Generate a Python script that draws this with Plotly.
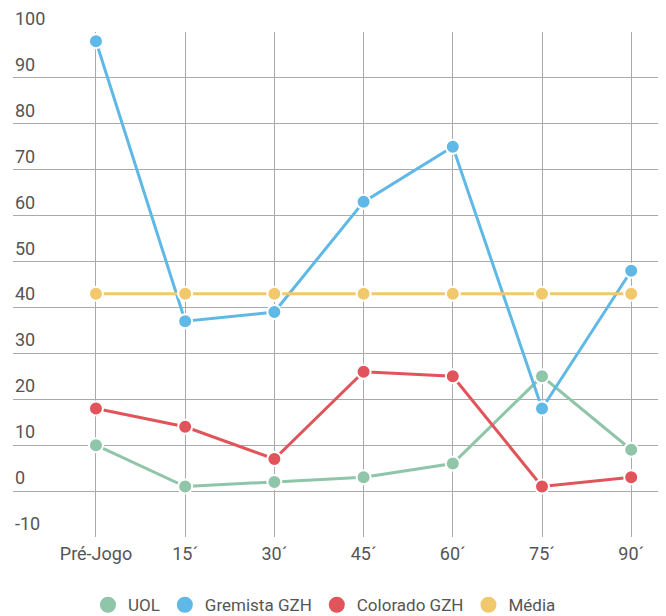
import plotly.graph_objects as go

categories = ["Pré-Jogo", "15´", "30´", "45´", "60´", "75´", "90´"]
uol = [10, 1, 2, 3, 6, 25, 9]
gremista = [98, 37, 39, 63, 75, 18, 48]
colorado = [18, 14, 7, 26, 25, 1, 3]
media = [43, 43, 43, 43, 43, 43, 43]
y_ticks = [-10, 0, 10, 20, 30, 40, 50, 60, 70, 80, 90, 100]

series = [
    ("UOL", uol, "#8fc5a9"),
    ("Gremista GZH", gremista, "#5fb8e5"),
    ("Colorado GZH", colorado, "#e0545a"),
    ("Média", media, "#f1c96c"),
]

fig = go.Figure()
xs = list(range(len(categories)))
for name, vals, color in series:
    fig.add_trace(go.Scatter(
        x=xs, y=vals, name=name, mode="lines+markers", showlegend=False,
        line=dict(color=color, width=3),
        marker=dict(size=14, color=color, line=dict(color="white", width=2)),
        cliponaxis=False,
    ))
for name, vals, color in series:
    fig.add_trace(go.Scatter(
        x=[None], y=[None], name=name, mode="markers", showlegend=True,
        marker=dict(size=20, color=color),
    ))

for v in y_ticks:
    fig.add_annotation(
        xref="paper", x=0, xanchor="left", xshift=0,
        yref="y", y=v, yanchor="bottom", yshift=1,
        text=str(v), showarrow=False,
        font=dict(family="Roboto", size=18, color="#555555"),
    )

fig.update_layout(
    width=658, height=608,
    margin=dict(l=5, r=0, t=24, b=79, autoexpand=False),
    paper_bgcolor="white", plot_bgcolor="white",
    font=dict(family="Roboto", size=18, color="#555555"),
    showlegend=True,
    legend=dict(orientation="h", x=0.477, xanchor="center", y=-0.135, yanchor="middle",
                font=dict(size=17, color="#555555"), itemsizing="trace",
                traceorder="normal"),
    xaxis=dict(
        tickmode="array", tickvals=xs, ticktext=categories,
        range=[-0.93, 6.39], showgrid=True, gridcolor="#aaaaaa", gridwidth=1,
        zeroline=False, showline=False, ticks="", ticklabelstandoff=4,
        automargin=False,
    ),
    yaxis=dict(
        tickmode="array", tickvals=y_ticks, showticklabels=False,
        range=[-10, 100], showgrid=True, gridcolor="#aaaaaa", gridwidth=1,
        zeroline=False, showline=False, ticks="", automargin=False,
    ),
)

fig.write_html("out.html")
